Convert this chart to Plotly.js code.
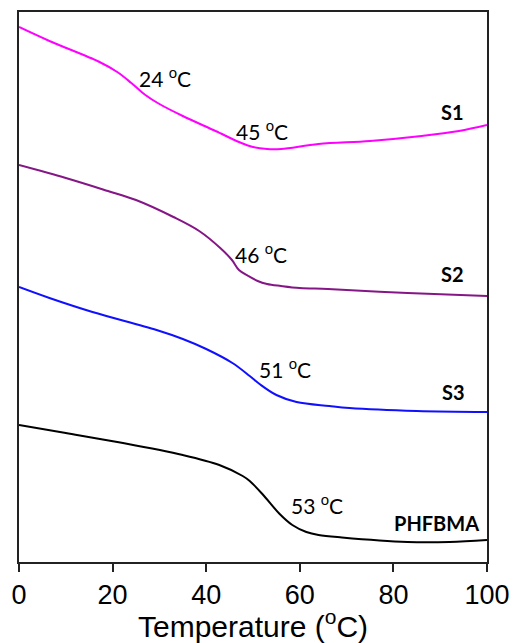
<!DOCTYPE html>
<html>
<head>
<meta charset="utf-8">
<script src="https://cdn.plot.ly/plotly-3.0.1.min.js"></script>
<style>html,body{margin:0;padding:0;background:#fff;}#chart{width:514px;height:643px;}</style>
</head>
<body>
<div id="chart"></div>
<script>
// Temperature (°C) and heat-flow (arbitrary, offset) readings for each sample
const s1T = [0, 6.5, 17.2, 21, 24, 27, 30, 35, 42, 47, 50, 53, 56, 64, 75, 86, 94, 100];
const s1Y = [535, 521, 500, 490, 479, 467, 458, 446, 431, 420, 415, 413, 413, 418, 421, 426, 431, 437];

const s2T = [0, 10, 19, 25, 33, 38.5, 43, 45.5, 47, 49, 51, 53, 56, 60, 66, 83, 100];
const s2Y = [397, 384, 371, 362, 345, 331, 314, 302, 292, 286, 281, 278, 276, 274, 273, 269, 266];

const s3T = [0, 6.5, 15.7, 29.4, 35, 40, 45.6, 49.3, 51.4, 55, 59.3, 66.3, 70.6, 85, 100];
const s3Y = [275, 264, 250, 232, 223, 213, 199, 186, 178, 167, 160, 156, 154, 151, 150];

const pT = [0, 10, 21, 35, 42.8, 47.8, 49.3, 52, 55.7, 58.4, 61.4, 64, 69, 83, 92, 100];
const pY = [137, 129, 120, 107, 97, 86, 81, 68, 48, 37, 30, 27, 24.5, 20, 20, 22];

const seriesNames = ["S1", "S2", "S3", "PHFBMA"];
const tgLabels = ["24 <sup>o</sup>C", "45 <sup>o</sup>C", "46 <sup>o</sup>C", "51 <sup>o</sup>C", "53 <sup>o</sup>C"];
const xTicks = [0, 20, 40, 60, 80, 100];

const lineStyle = (c, w) => ({color: c, width: w, shape: 'spline', smoothing: 1});
const traces = [
  {x: s1T, y: s1Y, name: seriesNames[0], mode: 'lines', line: lineStyle('#ff00ff', 2)},
  {x: s2T, y: s2Y, name: seriesNames[1], mode: 'lines', line: lineStyle('#851685', 2)},
  {x: s3T, y: s3Y, name: seriesNames[2], mode: 'lines', line: lineStyle('#1010ff', 2)},
  {x: pT, y: pY, name: seriesNames[3], mode: 'lines', line: lineStyle('#000000', 2)}
];

const annFont = {family: 'Lato, "Open Sans", sans-serif', size: 21, color: '#000'};
const boldFont = {family: 'Lato, "Open Sans", sans-serif', size: 20, color: '#000', weight: 'bold'};
const tgPos = [[31.3, 485], [52.0, 432], [51.8, 309], [56.9, 194], [63.6, 58]];
const namePos = [[92.6, 450], [92.7, 288], [92.8, 170], [89.3, 39]];
const annotations = [];
tgLabels.forEach((t, i) => annotations.push({x: tgPos[i][0], y: tgPos[i][1], text: t, showarrow: false, font: annFont, xanchor: 'center', yanchor: 'middle'}));
seriesNames.forEach((t, i) => annotations.push({x: namePos[i][0], y: namePos[i][1], text: '<b>' + t + '</b>', showarrow: false, font: boldFont, xanchor: 'center', yanchor: 'middle'}));

const layout = {
  width: 514, height: 643,
  margin: {l: 19, r: 27, t: 12, b: 81},
  paper_bgcolor: '#fff', plot_bgcolor: '#fff',
  showlegend: false,
  xaxis: {
    range: [0, 100], tickvals: xTicks, ticktext: xTicks.map(String),
    showline: true, mirror: true, linecolor: '#222', linewidth: 2,
    ticks: 'outside', ticklen: 8, tickwidth: 2, tickcolor: '#222',
    showgrid: false, zeroline: false,
    tickfont: {family: '"Liberation Sans", Arial, sans-serif', size: 27, color: '#000'},
    title: {text: 'Temperature (<sup>o</sup>C)', font: {family: '"Liberation Sans", Arial, sans-serif', size: 30, color: '#000'}, standoff: 4}
  },
  yaxis: {
    range: [0, 550], showline: true, mirror: true, linecolor: '#222', linewidth: 2,
    showticklabels: false, ticks: '', showgrid: false, zeroline: false
  },
  annotations: annotations
};

Plotly.newPlot('chart', traces, layout, {staticPlot: true, displayModeBar: false});
</script>
</body>
</html>
